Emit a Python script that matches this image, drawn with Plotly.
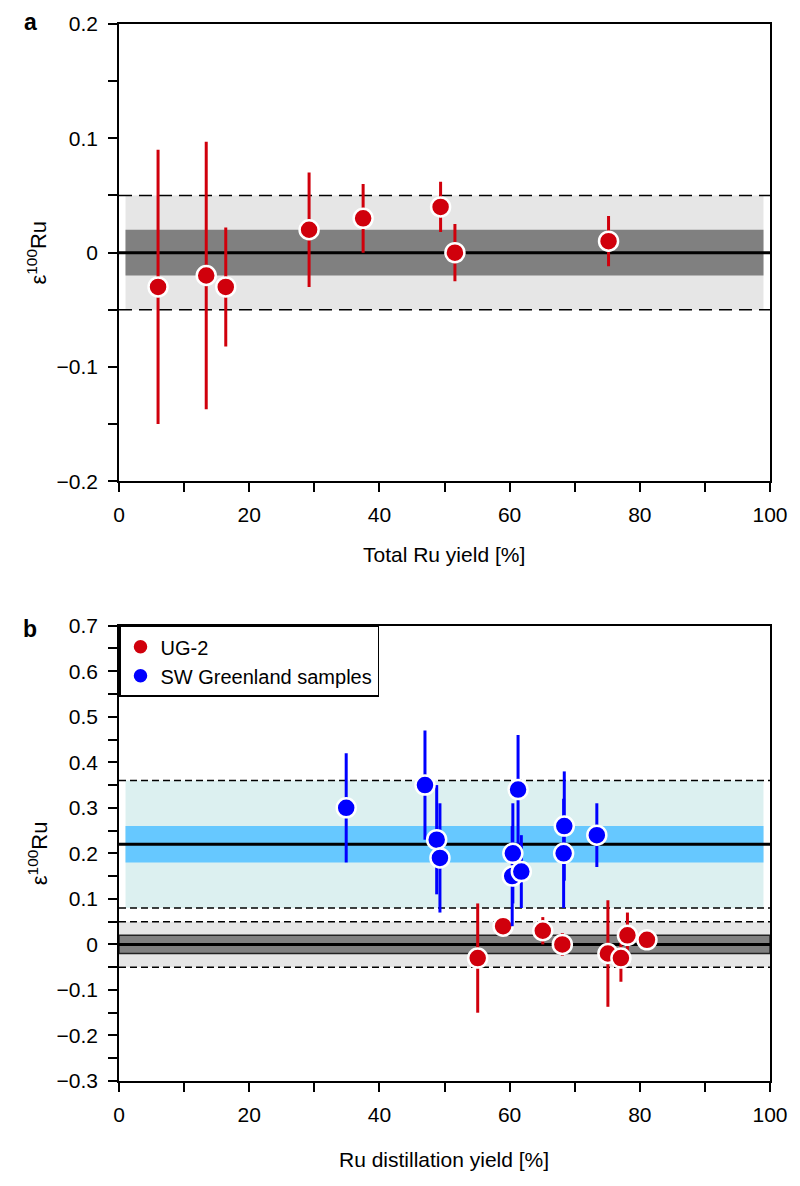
import plotly.graph_objects as go

# ---------------- data ----------------
# Panel a: total Ru yield (UG-2)
a_x = [6.0, 13.4, 16.4, 29.2, 37.5, 49.4, 51.6, 75.2]
a_y = [-0.03, -0.02, -0.03, 0.02, 0.03, 0.04, 0.0, 0.01]
a_err = [0.12, 0.117, 0.052, 0.05, 0.03, 0.022, 0.025, 0.022]

# Panel b: Ru distillation yield
b_red_x = [55.1, 59.0, 65.1, 68.1, 75.1, 77.1, 78.1, 81.1]
b_red_y = [-0.03, 0.04, 0.03, 0.0, -0.02, -0.03, 0.02, 0.01]
b_red_err = [0.12, 0.022, 0.03, 0.025, 0.117, 0.052, 0.05, 0.022]

b_blue_x = [34.9, 47.0, 48.8, 49.3, 61.3, 60.5, 60.4, 61.8, 68.4, 68.3, 73.4]
b_blue_y = [0.30, 0.35, 0.23, 0.19, 0.34, 0.20, 0.15, 0.16, 0.26, 0.20, 0.24]
b_blue_err = [0.12, 0.12, 0.12, 0.12, 0.12, 0.11, 0.11, 0.08, 0.12, 0.12, 0.07]

# reference bands
ug2_mean = 0.0
ug2_inner = 0.02
ug2_outer = 0.05
gl_mean = 0.22
gl_inner = 0.04
gl_outer = 0.14

series_names = ["UG-2", "SW Greenland samples"]
x_ticks = [0, 20, 40, 60, 80, 100]

RED = "#d0000c"
BLUE = "#0000ff"
FONT = "Liberation Sans, Arial, Helvetica, sans-serif"

fig = go.Figure()

marker_red = dict(color=RED, size=19, line=dict(color="white", width=2.5))
marker_blue = dict(color=BLUE, size=19, line=dict(color="white", width=2.5))

fig.add_trace(go.Scatter(
    x=a_x, y=a_y, mode="markers", marker=marker_red, showlegend=False,
    error_y=dict(type="data", array=a_err, visible=True, width=0, thickness=3, color=RED),
    xaxis="x", yaxis="y"))

fig.add_trace(go.Scatter(
    x=b_red_x, y=b_red_y, mode="markers", marker=marker_red, name=series_names[0],
    error_y=dict(type="data", array=b_red_err, visible=True, width=0, thickness=3, color=RED),
    xaxis="x2", yaxis="y2"))

fig.add_trace(go.Scatter(
    x=b_blue_x, y=b_blue_y, mode="markers", marker=marker_blue, name=series_names[1],
    error_y=dict(type="data", array=b_blue_err, visible=True, width=0, thickness=3, color=BLUE),
    xaxis="x2", yaxis="y2"))

shapes = []

def rect(xr, yr, x0, x1, y0, y1, color, line=None):
    d = dict(type="rect", xref=xr, yref=yr, x0=x0, x1=x1, y0=y0, y1=y1,
             fillcolor=color, layer="below",
             line=line if line else dict(width=0))
    shapes.append(d)

def hline(xr, yr, y, width, dash="solid", color="black", x0=0, x1=100):
    shapes.append(dict(type="line", xref=xr, yref=yr, x0=x0, x1=x1, y0=y, y1=y,
                       layer="below", line=dict(color=color, width=width, dash=dash)))

# panel a bands
rect("x", "y", 1, 99, ug2_mean - ug2_outer, ug2_mean + ug2_outer, "#e6e6e6")
rect("x", "y", 1, 99, ug2_mean - ug2_inner, ug2_mean + ug2_inner, "#808080")
hline("x", "y", ug2_mean, 3)
hline("x", "y", ug2_mean + ug2_outer, 1.5, "13px,7px")
hline("x", "y", ug2_mean - ug2_outer, 1.5, "13px,7px")

# panel b bands
rect("x2", "y2", 1, 99, gl_mean - gl_outer, gl_mean + gl_outer, "#dcf0f0")
rect("x2", "y2", 1, 99, gl_mean - gl_inner, gl_mean + gl_inner, "#66c8ff")
hline("x2", "y2", gl_mean, 3)
hline("x2", "y2", gl_mean + gl_outer, 1.5, "7px,4px")
hline("x2", "y2", gl_mean - gl_outer, 1.5, "7px,4px")
rect("x2", "y2", 0, 100, ug2_mean - ug2_outer, ug2_mean + ug2_outer, "#e6e6e6")
rect("x2", "y2", 0, 100, ug2_mean - ug2_inner, ug2_mean + ug2_inner, "#808080",
     line=dict(color="#222222", width=1.5))
hline("x2", "y2", ug2_mean, 3)
hline("x2", "y2", ug2_mean + ug2_outer, 1.5, "7px,4px")
hline("x2", "y2", ug2_mean - ug2_outer, 1.5, "7px,4px")

tickfont = dict(family=FONT, size=21, color="black")

def xaxis_def(anchor):
    return dict(range=[0, 100], tickmode="array", tickvals=x_ticks,
                ticks="outside", ticklen=9, tickwidth=1.5, tickcolor="black",
                showline=True, linecolor="black", linewidth=1.5, mirror=True,
                showgrid=False, zeroline=False, tickfont=tickfont, anchor=anchor,
                minor=dict(dtick=10, tick0=0, ticks="outside", ticklen=9, tickwidth=1.5,
                           tickcolor="black", showgrid=False),
                ticklabelstandoff=5)

def yaxis_def(rng, domain, anchor):
    return dict(range=rng, dtick=0.1, tick0=0, domain=domain,
                ticks="outside", ticklen=9, tickwidth=1.5, tickcolor="black",
                showline=True, linecolor="black", linewidth=1.5, mirror=True,
                showgrid=False, zeroline=False, tickfont=tickfont, anchor=anchor,
                minor=dict(dtick=0.05, tick0=0, ticks="outside", ticklen=9, tickwidth=1.5,
                           tickcolor="black", showgrid=False),
                ticklabelstandoff=6)

H = 1186
top_m, bot_m = 20, 105
ph = H - top_m - bot_m
a_dom = [(1081 - 479) / ph, 1.0]
b_dom = [0.0, (1081 - 624) / ph]
pw = 800 - 119 - 27

annotations = [
    dict(text="<b>a</b>", xref="paper", yref="paper", x=(30 - 119) / pw, y=1 + 2 / ph,
         xanchor="center", yanchor="middle", showarrow=False,
         font=dict(family=FONT, size=23, color="black")),
    dict(text="<b>b</b>", xref="paper", yref="paper", x=(30 - 119) / pw,
         y=(1081 - 627) / ph, xanchor="center", yanchor="middle", showarrow=False,
         font=dict(family=FONT, size=23, color="black")),
    dict(text="ε<sup>100</sup>Ru", xref="paper", yref="paper", x=(37 - 119) / pw,
         y=(1081 - 249) / ph, xanchor="center", yanchor="middle", textangle=-90,
         showarrow=False, font=dict(family=FONT, size=22, color="black")),
    dict(text="ε<sup>100</sup>Ru", xref="paper", yref="paper", x=(37 - 119) / pw,
         y=(1081 - 852) / ph, xanchor="center", yanchor="middle", textangle=-90,
         showarrow=False, font=dict(family=FONT, size=22, color="black")),
    dict(text="Total Ru yield [%]", xref="paper", yref="paper", x=(445 - 119) / pw,
         y=(1081 - 553) / ph, xanchor="center", yanchor="middle", showarrow=False,
         font=dict(family=FONT, size=21, color="black")),
    dict(text="Ru distillation yield [%]", xref="paper", yref="paper", x=(445 - 119) / pw,
         y=(1081 - 1160) / ph, xanchor="center", yanchor="middle", showarrow=False,
         font=dict(family=FONT, size=21, color="black")),
]

fig.update_layout(
    width=800, height=H,
    margin=dict(l=119, r=27, t=top_m, b=bot_m),
    paper_bgcolor="white", plot_bgcolor="white",
    font=dict(family=FONT, color="black"),
    xaxis=xaxis_def("y"),
    yaxis=yaxis_def([-0.2, 0.2], a_dom, "x"),
    xaxis2=xaxis_def("y2"),
    yaxis2=yaxis_def([-0.3, 0.7], b_dom, "x2"),
    shapes=shapes,
    annotations=annotations,
    legend=dict(x=0, y=b_dom[1], xanchor="left", yanchor="top",
                bordercolor="black", borderwidth=1.5, bgcolor="white",
                font=dict(family=FONT, size=20, color="black"),
                itemsizing="trace", tracegroupgap=0),
    showlegend=True,
)

fig.write_html(
    "out.html",
    config={"displayModeBar": False},
    post_script="document.body.style.margin='0px';document.body.style.overflow='hidden';",
)
